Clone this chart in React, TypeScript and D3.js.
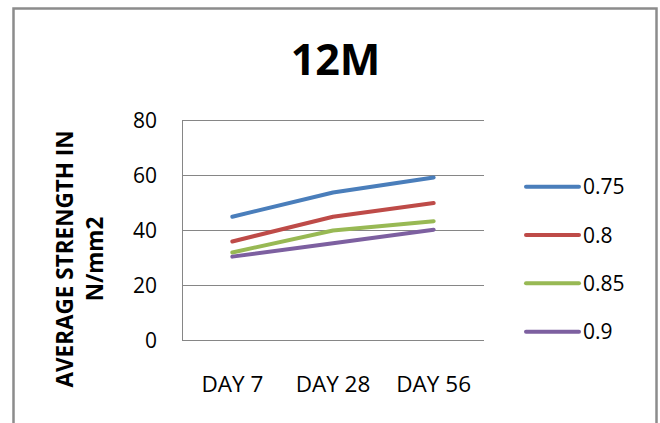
import * as d3 from "d3";

// chart data
const days = ["DAY 7", "DAY 28", "DAY 56"];
const ratios = ["0.75", "0.8", "0.85", "0.9"];
const s075 = [45, 53.8, 59.3];
const s080 = [36, 45, 50];
const s085 = [32, 40, 43.4];
const s090 = [30.5, 35.4, 40.3];
const yTicks = [0, 20, 40, 60, 80];
const colors = ["#4a7ebb", "#be4b48", "#98b954", "#7d60a0"];

const series = [s075, s080, s085, s090];

function App() {
    const width = 660,
        height = 423;

    const x = d3.scaleBand().domain(days).range([182, 484]);
    const y = d3.scaleLinear().domain([0, 80]).range([340.5, 120.5]);

    const line = d3
        .line<number>()
        .x((d, i) => (x(days[i]) ?? 0) + x.bandwidth() / 2)
        .y((d) => y(d));

    const legendY = d3.scalePoint().domain(ratios).range([186.7, 331.7]);

    const font = "'Open Sans', sans-serif";

    return (
        <svg
            width={width}
            height={height}
            style={{ position: "absolute", left: 0, top: 0, background: "#fff" }}
        >
            {/* outer frame */}
            <rect x={13.5} y={8.5} width={643} height={430} fill="#fff" stroke="#8c8c8c" strokeWidth={2.5} />

            <text x={335.5} y={75} textAnchor="middle" fontFamily={font} fontWeight="bold" fontSize={43} fill="#000">
                12M
            </text>

            {/* gridlines */}
            {yTicks.map((t) => (
                <line key={t} x1={182} x2={484} y1={y(t)} y2={y(t)} stroke="#868686" strokeWidth={1} />
            ))}
            <line x1={182.5} x2={182.5} y1={y(80)} y2={y(0)} stroke="#868686" strokeWidth={1} />

            {yTicks.map((t) => (
                <text key={t} x={157} y={y(t)} dy="0.36em" textAnchor="end" fontFamily={font} fontSize={21} fill="#000">
                    {t}
                </text>
            ))}

            {days.map((d) => (
                <text
                    key={d}
                    x={(x(d) ?? 0) + x.bandwidth() / 2}
                    y={392}
                    textAnchor="middle"
                    fontFamily={font}
                    fontSize={22.5}
                    fill="#000"
                >
                    {d}
                </text>
            ))}

            {/* y axis title */}
            <g transform="translate(0,259) rotate(-90)" fontFamily={font} fontWeight="bold" fontSize={22.5} fill="#000">
                <text x={0} y={72.5} textAnchor="middle">AVERAGE STRENGTH IN</text>
                <text x={0} y={103} textAnchor="middle">N/mm2</text>
            </g>

            {series.map((s, i) => (
                <path
                    key={ratios[i]}
                    d={line(s) ?? ""}
                    fill="none"
                    stroke={colors[i]}
                    strokeWidth={4}
                    strokeLinecap="round"
                    strokeLinejoin="round"
                />
            ))}

            {ratios.map((r, i) => (
                <g key={r} transform={`translate(0,${legendY(r)})`}>
                    <line x1={526} x2={579} y1={0} y2={0} stroke={colors[i]} strokeWidth={4} strokeLinecap="round" />
                    <text x={583} y={0} dy="0.36em" fontFamily={font} fontSize={21} fill="#000">
                        {r}
                    </text>
                </g>
            ))}
        </svg>
    );
}

export default App;
